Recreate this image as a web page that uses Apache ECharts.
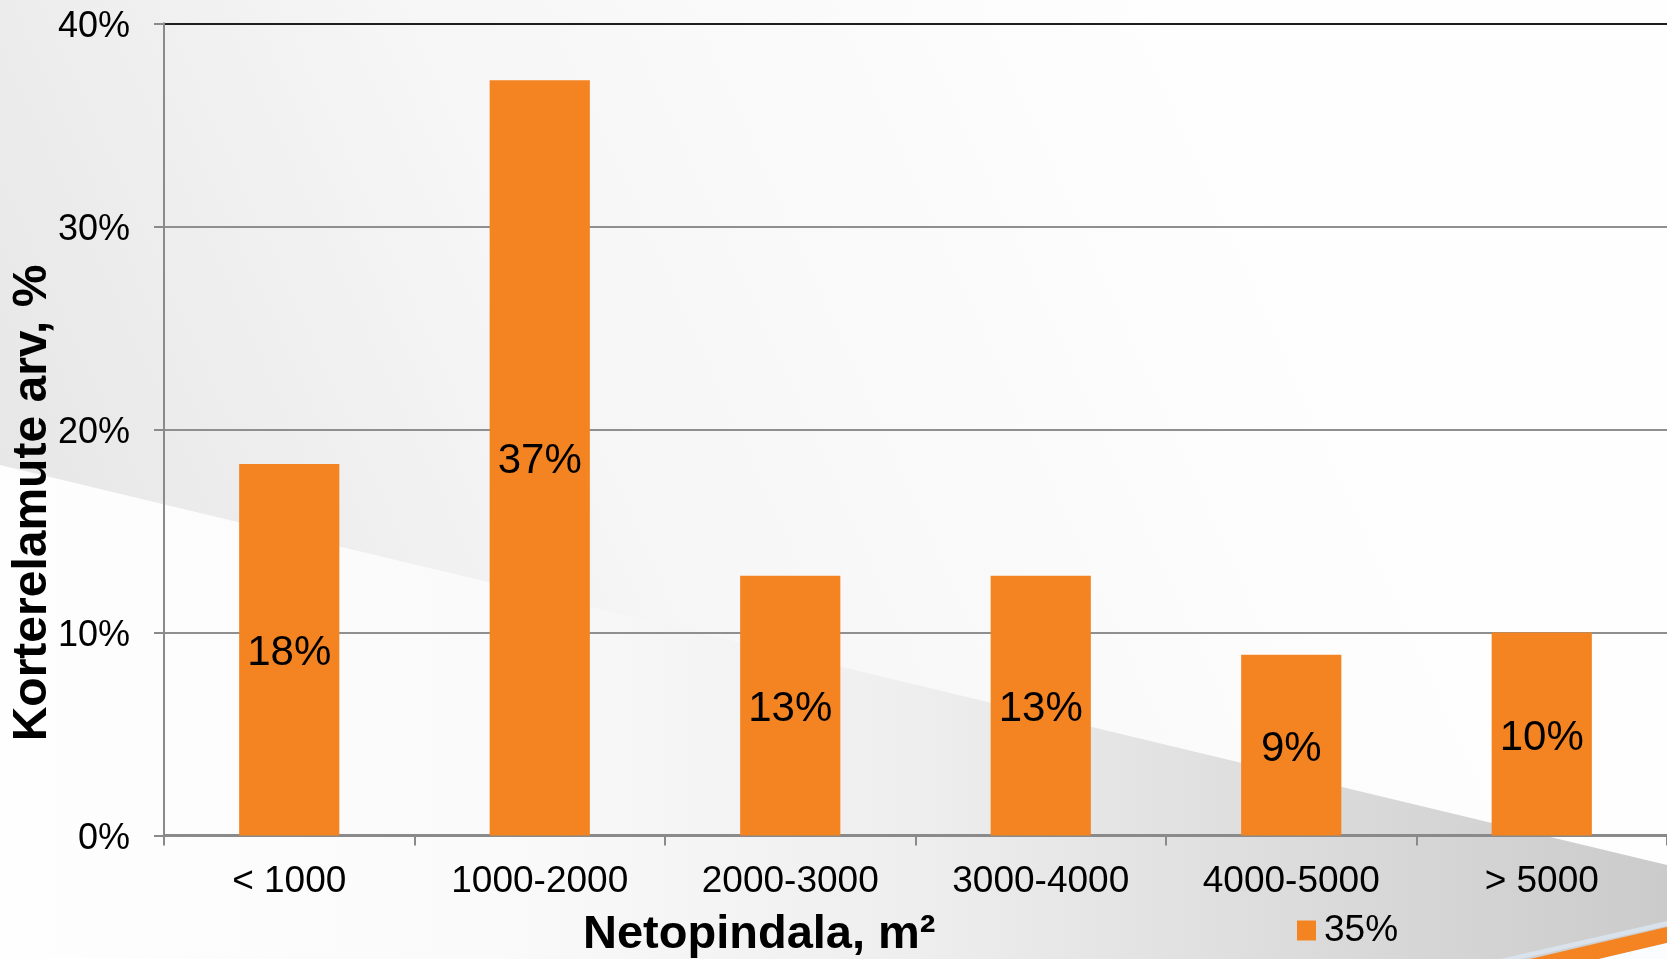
<!DOCTYPE html>
<html>
<head>
<meta charset="utf-8">
<title>Korterelamute arv netopindala järgi</title>
<script src="https://cdn.jsdelivr.net/npm/echarts@6/dist/echarts.min.js"></script>
<style>
  html, body { margin: 0; padding: 0; background: #ffffff; }
  #chart { width: 1667px; height: 959px; }
</style>
</head>
<body>
<div id="chart"></div>
<script>
// Size classes of net floor area (m²)
const categories = ['< 1000', '1000-2000', '2000-3000', '3000-4000', '4000-5000', '> 5000'];
// Share of apartment buildings in each class
const shares = [0.183, 0.372, 0.128, 0.128, 0.089, 0.100];
const seriesName = '35%';
const yTicks = { min: 0, max: 0.4, interval: 0.1 };

const FONT = "'Liberation Sans', Arial, Helvetica, sans-serif";
const ORANGE = '#F48322';
const W = 1667, H = 959;

const pct = v => Math.round(v * 100) + '%';

const chart = echarts.init(document.getElementById('chart'), null, { renderer: 'canvas' });

// Decorative slide backdrop: grey diagonal sweep and orange swoosh
const backdrop = [
  {
    type: 'rect', z: -20, silent: true,
    shape: { x: 0, y: 0, width: W, height: H },
    style: {
      fill: new echarts.graphic.LinearGradient(0, 0.55, 0.7, 0, [
        { offset: 0, color: '#e6e6e6' },
        { offset: 0.45, color: '#f6f6f6' },
        { offset: 1, color: '#fefefe' }
      ])
    }
  },
  {
    type: 'polygon', z: -19, silent: true,
    shape: { points: [[0, 465], [W, 865], [W, H], [0, H]] },
    style: {
      fill: new echarts.graphic.LinearGradient(0, 0, 1, 0, [
        { offset: 0, color: '#fefefe' },
        { offset: 0.3, color: '#fafafa' },
        { offset: 0.55, color: '#eeeeee' },
        { offset: 0.8, color: '#dadada' },
        { offset: 1, color: '#cbcbcb' }
      ])
    }
  },
  {
    type: 'polygon', z: -18, silent: true,
    shape: { points: [[1500, H], [W, 921], [W, 926], [1520, H]] },
    style: { fill: '#dce6f2', opacity: 0.8 }
  },
  {
    type: 'polygon', z: -17, silent: true,
    shape: { points: [[1530, H], [W, 927], [W, 943], [1599, H]] },
    style: { fill: ORANGE }
  },
  {
    type: 'polygon', z: -17, silent: true,
    shape: { points: [[1599, H], [W, 943], [W, H]] },
    style: { fill: '#fbfcfe' }
  }
];

// Axis titles placed as free text
const titles = [
  {
    type: 'text', z: 10, silent: true,
    x: 583, y: 935,
    style: {
      text: 'Netopindala, m²',
      font: 'bold 47px ' + FONT,
      fill: '#000',
      textAlign: 'left',
      textVerticalAlign: 'middle'
    }
  },
  {
    type: 'text', z: 10, silent: true,
    x: 33, y: 503, rotation: Math.PI / 2,
    style: {
      text: 'Korterelamute arv, %',
      font: 'bold 48px ' + FONT,
      fill: '#000',
      textAlign: 'center',
      textVerticalAlign: 'middle'
    }
  }
];

chart.setOption({
  animation: false,
  backgroundColor: 'transparent',
  textStyle: { fontFamily: FONT },
  grid: { left: 164, right: 0, top: 23.3, bottom: 123.4, containLabel: false },
  legend: {
    data: [seriesName],
    left: 1292, top: 907,
    itemWidth: 19, itemHeight: 20,
    icon: 'rect',
    selectedMode: false,
    textStyle: { fontSize: 37, color: '#000', fontFamily: FONT, padding: [0, 0, 0, 3] }
  },
  xAxis: {
    type: 'category',
    data: categories,
    boundaryGap: true,
    axisLine: { show: true, lineStyle: { color: '#8a8a8a', width: 3 } },
    axisTick: { show: true, length: 10, alignWithLabel: false, lineStyle: { color: '#8a8a8a', width: 2 } },
    axisLabel: { fontSize: 37, color: '#000', margin: 28, fontFamily: FONT, interval: 0 },
    splitLine: { show: false }
  },
  yAxis: {
    type: 'value',
    min: yTicks.min, max: yTicks.max, interval: yTicks.interval,
    axisLine: { show: true, lineStyle: { color: '#8a8a8a', width: 2 } },
    axisTick: { show: true, length: 10, lineStyle: { color: '#8a8a8a', width: 2 } },
    axisLabel: {
      margin: 34,
      formatter: v => '{t|' + pct(v) + '}',
      rich: {
        t: { fontSize: 36, color: '#000', fontFamily: FONT, padding: [7, 0, 0, 0] }
      }
    },
    splitLine: {
      show: true,
      lineStyle: { color: ['#8f8f8f', '#8f8f8f', '#8f8f8f', '#8f8f8f', '#1e1e1e'], width: 2 }
    }
  },
  graphic: backdrop.concat(titles),
  series: [{
    name: seriesName,
    type: 'bar',
    data: shares,
    barWidth: '40%',
    itemStyle: { color: ORANGE },
    label: {
      show: true,
      position: 'inside',
      offset: [0, 4],
      fontSize: 42,
      color: '#000',
      fontFamily: FONT,
      formatter: p => pct(p.value)
    }
  }]
});
</script>
</body>
</html>
